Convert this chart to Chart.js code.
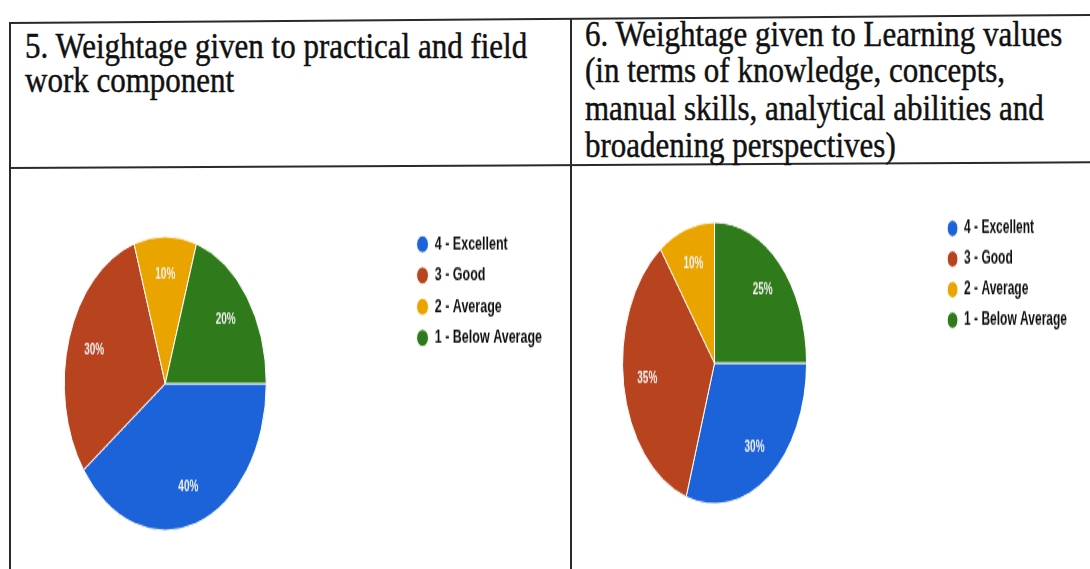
<!DOCTYPE html>
<html>
<head>
<meta charset="utf-8">
<script src="https://cdn.jsdelivr.net/npm/chart.js@4/dist/chart.umd.min.js"></script>
<style>
  body { margin: 0; width: 1090px; height: 569px; overflow: hidden; background: #fff; position: relative; }
  .rule { position: absolute; background: #2a2a2a; transform-origin: 0 0; }
  .title { position: absolute; font-family: "Liberation Serif", "Times New Roman", serif; font-size: 31px; color: #111;
           white-space: nowrap; transform: scale(1, 1.18); transform-origin: 0 0; -webkit-text-stroke: 0.4px #111; }
  .wrap { position: absolute; transform-origin: 0 0; }
</style>
</head>
<body>
<!-- table rules, slightly skewed like the scan -->
<div class="rule" style="left:9px;top:22px;width:1085px;height:2px;transform:rotate(-0.42deg)"></div>
<div class="rule" style="left:9px;top:167px;width:1085px;height:2px;transform:rotate(-0.3deg)"></div>
<div class="rule" style="left:9px;top:22px;width:2px;height:549px"></div>
<div class="rule" style="left:570px;top:18px;width:2px;height:551px"></div>

<div class="title" style="left:25px;top:28px;line-height:29px">5. Weightage given to practical and field<br>work component</div>
<div class="title" style="left:585px;top:15px;line-height:31.4px">6. Weightage given to Learning values<br>(in terms of knowledge, concepts,<br>manual skills, analytical abilities and<br>broadening perspectives)</div>

<div class="wrap" style="left:-77px;top:222px;transform:scale(1,1.455)"><canvas id="practical" width="629" height="222"></canvas></div>
<div class="wrap" style="left:490px;top:207px;transform:scale(1,1.53)"><canvas id="learning" width="587" height="204"></canvas></div>

<script>
const categories = ['4 - Excellent', '3 - Good', '2 - Average', '1 - Below Average'];
const practicalShares = [40, 30, 10, 20];
const learningShares = [30, 35, 10, 25];
const sliceColors = ['#1c63d9', '#b8431f', '#e9a400', '#2f7a1a'];

// percent text inside each slice
const pctLabels = {
  id: 'pctLabels',
  afterDatasetsDraw(chart, args, opts) {
    const ctx = chart.ctx;
    const meta = chart.getDatasetMeta(0);
    const data = chart.data.datasets[0].data;
    ctx.save();
    ctx.font = 'bold ' + opts.size + 'px "Liberation Sans", Arial, sans-serif';
    ctx.fillStyle = '#f3f3f3';
    ctx.textAlign = 'center';
    ctx.textBaseline = 'middle';
    meta.data.forEach((arc, i) => {
      const p = arc.getProps(['x', 'y', 'startAngle', 'endAngle', 'outerRadius'], true);
      const mid = (p.startAngle + p.endAngle) / 2;
      const r = p.outerRadius * 0.74;
      ctx.fillText(data[i] + '%', p.x + Math.cos(mid) * r, p.y + Math.sin(mid) * r);
    });
    ctx.restore();
  }
};

function makePie(id, values, radius, fontSize, box, gap) {
  return new Chart(document.getElementById(id), {
    type: 'pie',
    data: {
      labels: categories,
      datasets: [{
        data: values,
        backgroundColor: sliceColors,
        borderColor: '#ffffff',
        borderWidth: 1,
        radius: radius,
      }],
    },
    plugins: [pctLabels],
    options: {
      responsive: false,
      animation: false,
      rotation: 90,
      plugins: {
        pctLabels: { size: 10 },
        tooltip: { enabled: false },
        legend: {
          position: 'right',
          align: 'start',
          labels: {
            usePointStyle: true,
            pointStyle: 'circle',
            boxWidth: box,
            boxHeight: box * 0.7,
            padding: gap,
            color: '#111',
            font: { family: '"Liberation Sans", Arial, sans-serif', size: fontSize, weight: 'bold' },
          },
        },
      },
    },
  });
}

makePie('practical', practicalShares, 101, 12.5, 12, 9);
makePie('learning', learningShares, 92, 12, 11, 8);
</script>
</body>
</html>
